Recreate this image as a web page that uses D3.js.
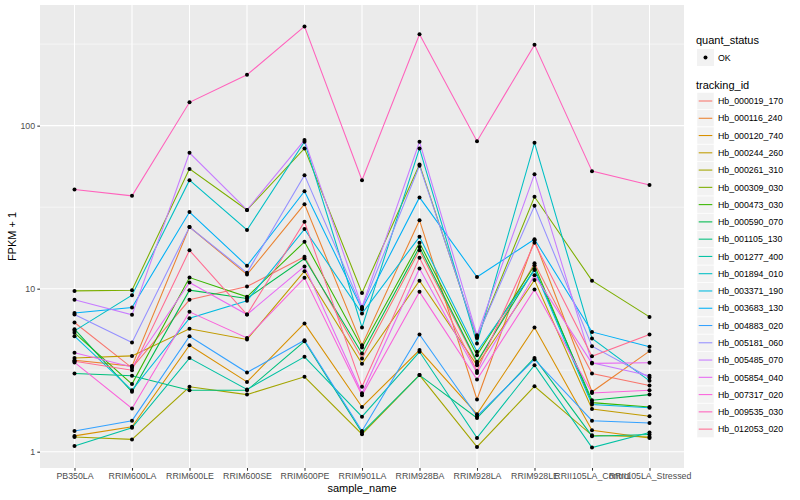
<!DOCTYPE html>
<html>
<head>
<meta charset="utf-8">
<script src="https://cdn.jsdelivr.net/npm/d3@7"></script>
<style>
  body { margin: 0; background: #fff; }
  svg { font-family: "Liberation Sans", Arial, sans-serif; }
</style>
</head>
<body>
<svg id="chart"></svg>
<script>
const samples = ["PB350LA", "RRIM600LA", "RRIM600LE", "RRIM600SE", "RRIM600PE", "RRIM901LA",
  "RRIM928BA", "RRIM928LA", "RRIM928LE", "RRII105LA_Control", "RRII105LA_Stressed"];

const trackingIds = ["Hb_000019_170", "Hb_000116_240", "Hb_000120_740", "Hb_000244_260", "Hb_000261_310",
  "Hb_000309_030", "Hb_000473_030", "Hb_000590_070", "Hb_001105_130", "Hb_001277_400",
  "Hb_001894_010", "Hb_003371_190", "Hb_003683_130", "Hb_004883_020", "Hb_005181_060",
  "Hb_005485_070", "Hb_005854_040", "Hb_007317_020", "Hb_009535_030", "Hb_012053_020"];

// FPKM + 1, one row per tracking id, one value per sample
const fpkm = [
  [6.20, 3.27, 8.54, 10.3, 15.7, 3.73, 17.2, 3.48, 14.3, 3.02, 2.55],
  [3.64, 3.35, 23.9, 12.2, 33.0, 4.50, 26.3, 2.09, 19.8, 2.33, 4.14],
  [1.25, 1.42, 4.50, 2.68, 6.12, 1.88, 4.20, 1.70, 5.78, 1.355, 1.215],
  [3.76, 3.87, 5.67, 4.88, 12.8, 3.46, 11.2, 3.39, 11.3, 1.83, 1.65],
  [1.23, 1.19, 2.50, 2.24, 2.88, 1.28, 2.95, 1.07, 2.52, 1.26, 1.23],
  [9.69, 9.79, 54.3, 30.4, 72.5, 9.42, 57.8, 4.99, 36.6, 11.2, 6.71],
  [5.36, 2.60, 11.7, 8.91, 19.4, 4.36, 19.1, 3.91, 13.9, 2.00, 1.88],
  [5.64, 2.33, 9.79, 8.71, 15.3, 4.00, 18.0, 3.56, 13.2, 2.07, 2.24],
  [3.02, 2.92, 2.38, 2.38, 4.76, 1.31, 2.95, 1.61, 3.76, 1.245, 1.275],
  [1.085, 1.40, 3.75, 2.41, 3.82, 1.64, 4.10, 1.215, 3.39, 1.06, 1.31],
  [5.51, 9.12, 46.3, 22.9, 79.6, 5.78, 72.5, 4.61, 78.4, 4.95, 2.72],
  [5.11, 2.38, 6.59, 8.42, 23.2, 7.04, 20.8, 4.10, 13.0, 1.95, 1.86],
  [7.10, 7.67, 29.5, 13.8, 39.6, 7.49, 36.3, 11.8, 20.1, 5.43, 4.40],
  [1.34, 1.55, 5.11, 3.06, 4.83, 1.34, 5.24, 1.65, 3.68, 1.55, 1.50],
  [6.94, 4.68, 23.9, 12.5, 49.7, 7.62, 56.7, 5.06, 32.2, 4.44, 2.85],
  [8.54, 6.91, 68.1, 30.4, 81.5, 7.73, 79.6, 5.18, 50.4, 3.51, 2.92],
  [4.04, 3.31, 10.9, 6.94, 13.7, 2.28, 13.3, 3.04, 12.1, 3.48, 3.51],
  [3.53, 1.84, 7.21, 4.99, 11.65, 2.22, 9.56, 2.77, 9.89, 2.29, 2.38],
  [40.6, 37.1, 139, 205, 406, 46.3, 363, 80.3, 313, 52.6, 43.2],
  [3.59, 3.16, 17.2, 6.94, 25.7, 2.50, 15.5, 3.13, 19.1, 3.85, 5.24]
];

const yTicks = [1, 10, 100];
const yMinor = [Math.sqrt(10), Math.sqrt(1000), Math.sqrt(100000)];

const palette = ["#F8766D", "#EA8331", "#D89000", "#C09B00", "#A3A500", "#7CAE00", "#39B600", "#00BB4E",
  "#00BF7D", "#00C1A3", "#00BFC4", "#00BAE0", "#00B0F6", "#35A2FF", "#9590FF", "#C77CFF",
  "#E76BF3", "#FA62DB", "#FF62BC", "#FF6C91"];

const width = 800, height = 500;
const panel = { left: 40, right: 684, top: 5, bottom: 468 };

const svg = d3.select("#chart").attr("width", width).attr("height", height);

const x = d3.scalePoint().domain(samples).range([panel.left, panel.right]).padding(0.6);
const y = d3.scaleLog().domain([Math.pow(10, -0.1), Math.pow(10, 2.74)]).range([panel.bottom, panel.top]);
const color = d3.scaleOrdinal().domain(trackingIds).range(palette);

// panel background + grid
svg.append("rect")
  .attr("x", panel.left).attr("y", panel.top)
  .attr("width", panel.right - panel.left).attr("height", panel.bottom - panel.top)
  .attr("fill", "#EBEBEB");

const grid = svg.append("g");
grid.selectAll(".minor").data(yMinor).enter().append("line")
  .attr("x1", panel.left).attr("x2", panel.right)
  .attr("y1", d => y(d)).attr("y2", d => y(d))
  .attr("stroke", "#fff").attr("stroke-width", 0.53);
grid.selectAll(".majy").data(yTicks).enter().append("line")
  .attr("x1", panel.left).attr("x2", panel.right)
  .attr("y1", d => y(d)).attr("y2", d => y(d))
  .attr("stroke", "#fff").attr("stroke-width", 1.07);
grid.selectAll(".majx").data(samples).enter().append("line")
  .attr("x1", d => x(d)).attr("x2", d => x(d))
  .attr("y1", panel.top).attr("y2", panel.bottom)
  .attr("stroke", "#fff").attr("stroke-width", 1.07);

// lines
const line = d3.line().x((d, i) => x(samples[i])).y(d => y(d));
svg.append("g").selectAll("path")
  .data(fpkm)
  .enter()
  .append("path")
  .attr("d", d => line(d))
  .attr("fill", "none")
  .attr("stroke", (d, i) => color(trackingIds[i]))
  .attr("stroke-width", 1.07);

// points
const pts = [];
fpkm.forEach((row, i) => row.forEach((v, j) => pts.push({ s: samples[j], v: v })));
svg.append("g").selectAll("circle")
  .data(pts)
  .enter()
  .append("circle")
  .attr("cx", d => x(d.s))
  .attr("cy", d => y(d.v))
  .attr("r", 2)
  .attr("fill", "#000");

// axes
const xAxis = d3.axisBottom(x).tickSizeInner(2.7).tickSizeOuter(0).tickPadding(2.5);
const yAxis = d3.axisLeft(y).tickValues(yTicks).tickFormat(d3.format("d")).tickSizeInner(2.7).tickSizeOuter(0).tickPadding(2.2);

const gx = svg.append("g").attr("transform", `translate(0, ${panel.bottom})`).call(xAxis);
const gy = svg.append("g").attr("transform", `translate(${panel.left}, 0)`).call(yAxis);
[gx, gy].forEach(g => {
  g.select(".domain").remove();
  g.selectAll("line").attr("stroke", "#333").attr("stroke-width", 1.07);
  g.selectAll("text").attr("fill", "#4D4D4D").style("font-size", "8.8px");
});

svg.append("text")
  .attr("x", (panel.left + panel.right) / 2).attr("y", 492)
  .attr("text-anchor", "middle").style("font-size", "11px").attr("fill", "#000")
  .text("sample_name");
svg.append("text")
  .attr("transform", `translate(16, ${(panel.top + panel.bottom) / 2}) rotate(-90)`)
  .attr("text-anchor", "middle").style("font-size", "11px").attr("fill", "#000")
  .text("FPKM + 1");

// legends
const lg = svg.append("g").attr("transform", "translate(696, 0)");
lg.append("text").attr("x", 0).attr("y", 44).style("font-size", "11px").text("quant_status");
lg.append("rect").attr("x", 1).attr("y", 49).attr("width", 17).attr("height", 17).attr("fill", "#F2F2F2");
lg.append("circle").attr("cx", 9.5).attr("cy", 57.5).attr("r", 2).attr("fill", "#000");
lg.append("text").attr("x", 22).attr("y", 60.7).style("font-size", "8.8px").attr("fill", "#000").text("OK");

lg.append("text").attr("x", 0).attr("y", 89).style("font-size", "11px").text("tracking_id");
const keys = lg.selectAll(".key").data(trackingIds).enter().append("g")
  .attr("transform", (d, i) => `translate(1, ${92.5 + i * 17.27})`);
keys.append("rect").attr("width", 17).attr("height", 17).attr("fill", "#F2F2F2")
  .attr("stroke", "#fff").attr("stroke-width", 0.5);
keys.append("line").attr("x1", 1.7).attr("x2", 15.3).attr("y1", 8.5).attr("y2", 8.5)
  .attr("stroke", d => color(d)).attr("stroke-width", 1.07);
keys.append("text").attr("x", 21).attr("y", 11.7).style("font-size", "8.8px").attr("fill", "#000").text(d => d);
</script>
</body>
</html>
